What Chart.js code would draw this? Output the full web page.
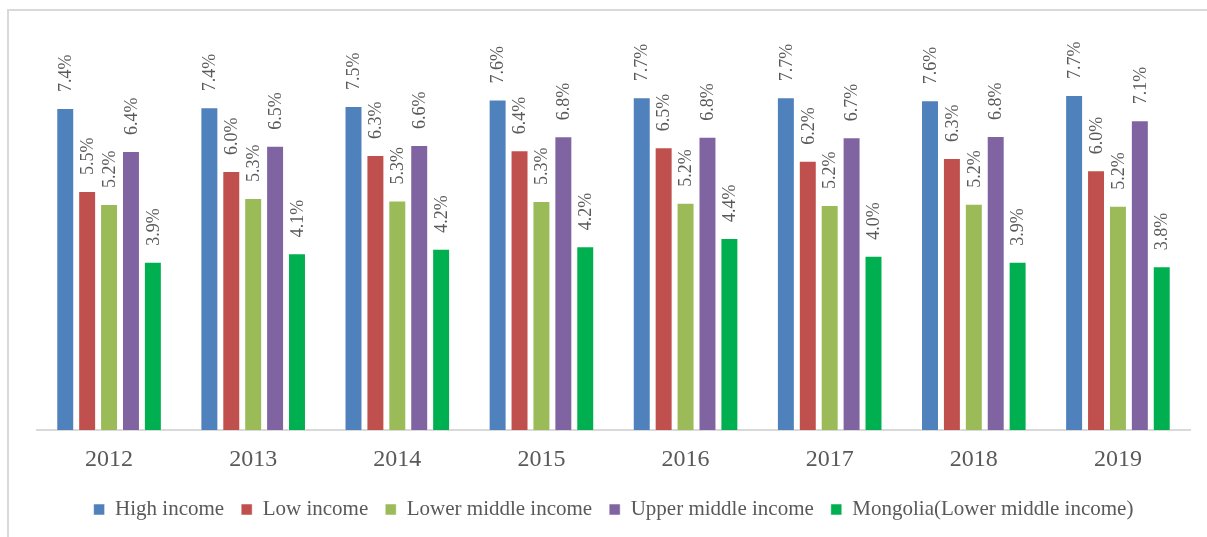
<!DOCTYPE html>
<html>
<head>
<meta charset="utf-8">
<script src="https://cdn.jsdelivr.net/npm/chart.js@4.4.1/dist/chart.umd.min.js"></script>
<style>
  body { margin: 0; background: #fff; }
  #frame { position: absolute; left: 7px; top: 9px; width: 1300px; height: 600px; border: 2px solid #d9d9d9; }
  #chart { position: absolute; left: 0; top: 0; }
</style>
</head>
<body>
<div id="frame"></div>
<canvas id="chart" width="1207" height="537"></canvas>
<script>
const years = ['2012', '2013', '2014', '2015', '2016', '2017', '2018', '2019'];
const highIncome = [7.41, 7.43, 7.46, 7.61, 7.66, 7.66, 7.59, 7.71];
const lowIncome = [5.50, 5.96, 6.33, 6.44, 6.51, 6.20, 6.26, 5.98];
const lowerMiddle = [5.20, 5.34, 5.28, 5.27, 5.23, 5.18, 5.21, 5.16];
const upperMiddle = [6.42, 6.54, 6.56, 6.76, 6.75, 6.74, 6.77, 7.13];
const mongolia = [3.87, 4.07, 4.17, 4.23, 4.42, 4.01, 3.87, 3.77];

const textColor = '#595959';
const serif = "'Liberation Serif', 'Times New Roman', serif";

// rotated value labels above each bar
const barLabels = {
    id: 'barLabels',
    afterDatasetsDraw(chart) {
        const ctx = chart.ctx;
        ctx.save();
        ctx.font = '18px ' + serif;
        ctx.fillStyle = textColor;
        ctx.textAlign = 'left';
        ctx.textBaseline = 'middle';
        chart.data.datasets.forEach(function(ds, i) {
            chart.getDatasetMeta(i).data.forEach(function(bar, j) {
                ctx.save();
                ctx.translate(bar.x + 1, bar.y - 16);
                ctx.rotate(-Math.PI / 2);
                ctx.fillText(ds.data[j].toFixed(1) + '%', 0, 0);
                ctx.restore();
            });
        });
        ctx.restore();
    }
};

function series(label, data, color) {
    return {
        label: label,
        data: data,
        backgroundColor: color,
        borderColor: 'rgba(255,255,255,0.5)',
        borderWidth: 1,
        categoryPercentage: 0.76,
        barPercentage: 0.82
    };
}

new Chart(document.getElementById('chart'), {
    type: 'bar',
    data: {
        labels: years,
        datasets: [
            series('High income', highIncome, '#4f81bd'),
            series('Low income', lowIncome, '#c0504d'),
            series('Lower middle income', lowerMiddle, '#9bbb59'),
            series('Upper middle income', upperMiddle, '#8064a2'),
            series('Mongolia(Lower middle income)', mongolia, '#00b050')
        ]
    },
    options: {
        responsive: false,
        animation: false,
        devicePixelRatio: 1,
        layout: { padding: { left: 37, right: 17, top: 39, bottom: 7 } },
        scales: {
            x: {
                grid: { display: false },
                border: { color: '#d9d9d9', width: 2 },
                ticks: { color: textColor, font: { family: serif, size: 24, lineHeight: 1.0 }, padding: 10 }
            },
            y: { display: false, min: 0, max: 9 }
        },
        plugins: {
            legend: {
                position: 'bottom',
                labels: {
                    boxWidth: 11,
                    boxHeight: 11,
                    padding: 17,
                    color: textColor,
                    font: { family: serif, size: 21 }
                }
            },
            tooltip: { enabled: false }
        }
    },
    plugins: [barLabels]
});
</script>
</body>
</html>
